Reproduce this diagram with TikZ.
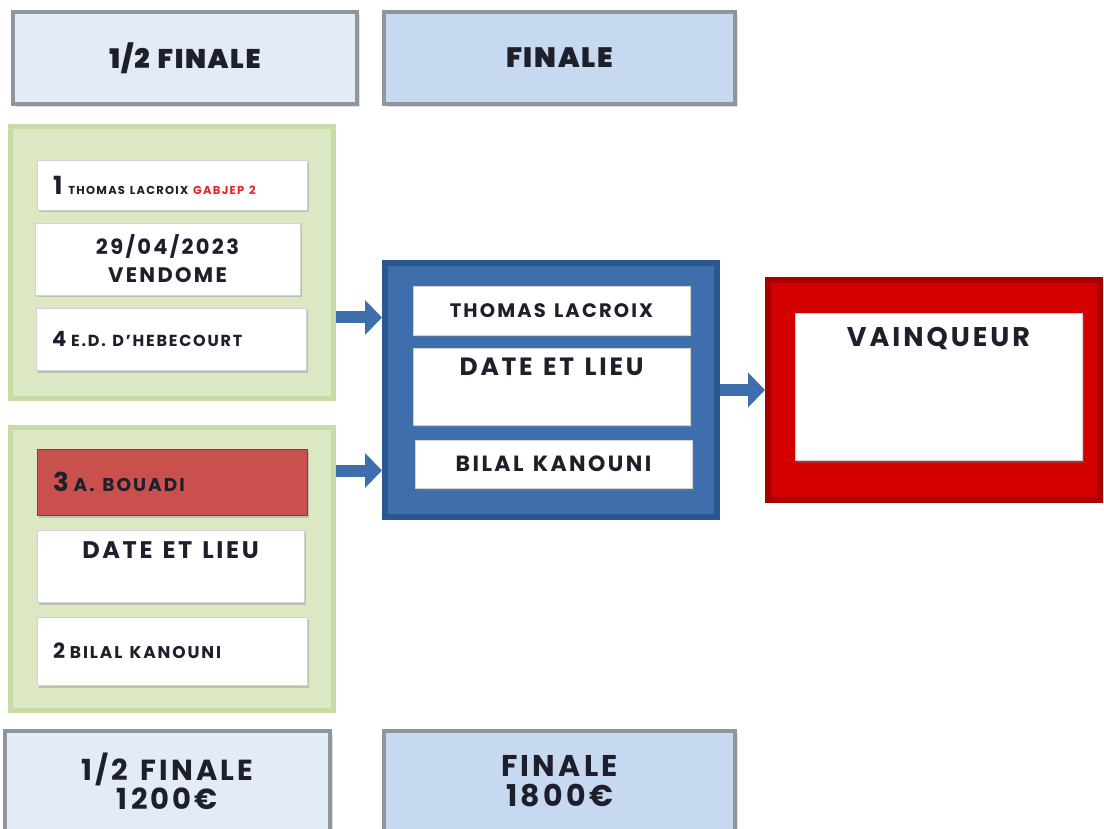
\documentclass[tikz,border=0pt]{standalone}
\usepackage{fontspec}
\setmainfont{Poppins}[LetterSpace=11, WordSpace=1.3]
\IfFontExistsTF{Poppins Black}
  {\newfontfamily\heavyfont{Poppins Black}[LetterSpace=6, WordSpace=1.3]}
  {\newfontfamily\heavyfont{Poppins}[LetterSpace=6, WordSpace=1.3, UprightFont=*Bold]}
\usepackage{tikz}
\usetikzlibrary{positioning, arrows.meta, shadows}

\definecolor{hdrpale}{HTML}{E2EBF6}
\definecolor{hdrblue}{HTML}{C6D9F1}
\definecolor{bevelgray}{HTML}{8E969F}
\definecolor{pnlgreen}{HTML}{DCE7C3}
\definecolor{pnlgreenedge}{HTML}{C8DAA5}
\definecolor{rowred}{HTML}{C9504D}
\definecolor{rowrededge}{HTML}{9A3331}
\definecolor{frameblue}{HTML}{3E6EAB}
\definecolor{frameblueedge}{HTML}{2C578E}
\definecolor{framered}{HTML}{D40000}
\definecolor{framerededge}{HTML}{A80000}
\definecolor{inktext}{HTML}{1E1F2A}
\definecolor{tagred}{HTML}{E5252A}

\begin{document}
\begin{tikzpicture}[x=1pt, y=-1pt, text=inktext,
    hdr/.style={draw=bevelgray, line width=4pt, fill=#1, drop shadow={opacity=0.25}, align=center, inner sep=0pt},
    pnl/.style={draw=pnlgreenedge, line width=5pt, fill=pnlgreen, drop shadow={opacity=0.25}},
    cell/.style={draw=black!18, line width=0.8pt, fill=white, drop shadow={opacity=0.35, shadow xshift=1.5pt, shadow yshift=-2.5pt}, align=center, inner sep=0pt},
    seed/.style={cell, align=flush left, text width=238pt, inner xsep=16pt},
    toplabel/.style={anchor=north, inner sep=0pt, text=inktext},
    go/.style={-{Triangle[length=17pt, width=34pt]}, line width=12pt, draw=frameblue},
  ]
  \useasboundingbox[fill=white] (0,0) rectangle (1104,829);

  % headers
  \node[hdr=hdrpale, minimum width=344pt, minimum height=92pt, font=\fontsize{27}{29}\selectfont\heavyfont] (semihdr) at (185,58) {1/2 FINALE};
  \node[hdr=hdrblue, minimum width=351pt, minimum height=92pt, font=\fontsize{28}{30}\selectfont\heavyfont] (finalhdr) at (559.5,58) {FINALE};

  % demi-finale 1
  \node[pnl, minimum width=323pt, minimum height=271pt] (semiA) at (171.5,262.5) {};
  \node[seed, minimum height=50pt] (seedA1) at (172,185) {{\fontsize{25}{26}\selectfont\bfseries 1}\hspace{6pt}{\fontsize{11.5}{12}\selectfont\bfseries THOMAS LACROIX \textcolor{tagred}{GABJEP 2}}};
  \node[cell, minimum width=265pt, minimum height=72pt, font=\fontsize{21}{28}\selectfont\bfseries] (placeA) at (167.5,259) {29/04/2023\\VENDOME};
  \node[seed, minimum height=62pt] (seedA2) at (171,339) {{\fontsize{21}{22}\selectfont\bfseries 4}\hspace{5pt}{\fontsize{16}{18}\selectfont\bfseries E.D. D'HEBECOURT}};

  % demi-finale 2
  \node[pnl, minimum width=323pt, minimum height=283pt] (semiB) at (171.5,568.5) {};
  \node[seed, fill=rowred, draw=rowrededge, minimum height=66pt] (seedB1) at (172,482) {{\fontsize{26}{26}\selectfont\bfseries 3}\hspace{5pt}{\fontsize{18.5}{19}\selectfont\bfseries A. BOUADI}};
  \node[cell, minimum width=267pt, minimum height=72pt, label={[toplabel, yshift=-12pt, font=\fontsize{24}{26}\selectfont\bfseries]north:DATE ET LIEU}] (placeB) at (170.5,566) {};
  \node[seed, minimum height=68pt] (seedB2) at (172,651) {{\fontsize{21}{22}\selectfont\bfseries 2}\hspace{5pt}{\fontsize{17}{18}\selectfont\bfseries BILAL KANOUNI}};

  % finale
  \node[draw=frameblueedge, line width=6pt, fill=frameblue, minimum width=332pt, minimum height=254pt, drop shadow={opacity=0.3}] (final) at (551,390) {};
  \node[cell, minimum width=277pt, minimum height=49pt, font=\fontsize{19.5}{22}\selectfont\bfseries] (finalA) at (551.5,310.5) {THOMAS LACROIX};
  \node[cell, minimum width=277pt, minimum height=77pt, label={[toplabel, yshift=-10pt, font=\fontsize{25}{27}\selectfont\bfseries]north:DATE ET LIEU}] (placeF) at (551.5,386.5) {};
  \node[cell, minimum width=277pt, minimum height=48pt, font=\fontsize{22}{25}\selectfont\bfseries] (finalB) at (553.5,464) {BILAL KANOUNI};

  % vainqueur
  \node[draw=framerededge, line width=6pt, fill=framered, minimum width=332pt, minimum height=220pt, drop shadow={opacity=0.3}] (winner) at (934,390) {};
  \node[cell, minimum width=287pt, minimum height=147pt, label={[toplabel, yshift=-14pt, font=\fontsize{27}{29}\selectfont\bfseries]north:VAINQUEUR}] (winbox) at (938.5,386.5) {};

  % primes
  \node[hdr=hdrpale, minimum width=325pt, minimum height=101pt, font=\fontsize{29}{29}\selectfont\bfseries] (semiprize) at (167.5,781.5) {1/2 FINALE\\1200€};
  \node[hdr=hdrblue, minimum width=351pt, minimum height=101pt, font=\fontsize{30}{30}\selectfont\bfseries] (finalprize) at (559.5,781.5) {FINALE\\1800€};

  % fleches
  \draw[go] ([yshift=-55pt]semiA.east) -- ([yshift=-55pt]semiA.east -| final.west);
  \draw[go] ([yshift=98pt]semiB.east) -- ([yshift=98pt]semiB.east -| final.west);
  \draw[go] (final.east) -- (winner.west);
\end{tikzpicture}
\end{document}
